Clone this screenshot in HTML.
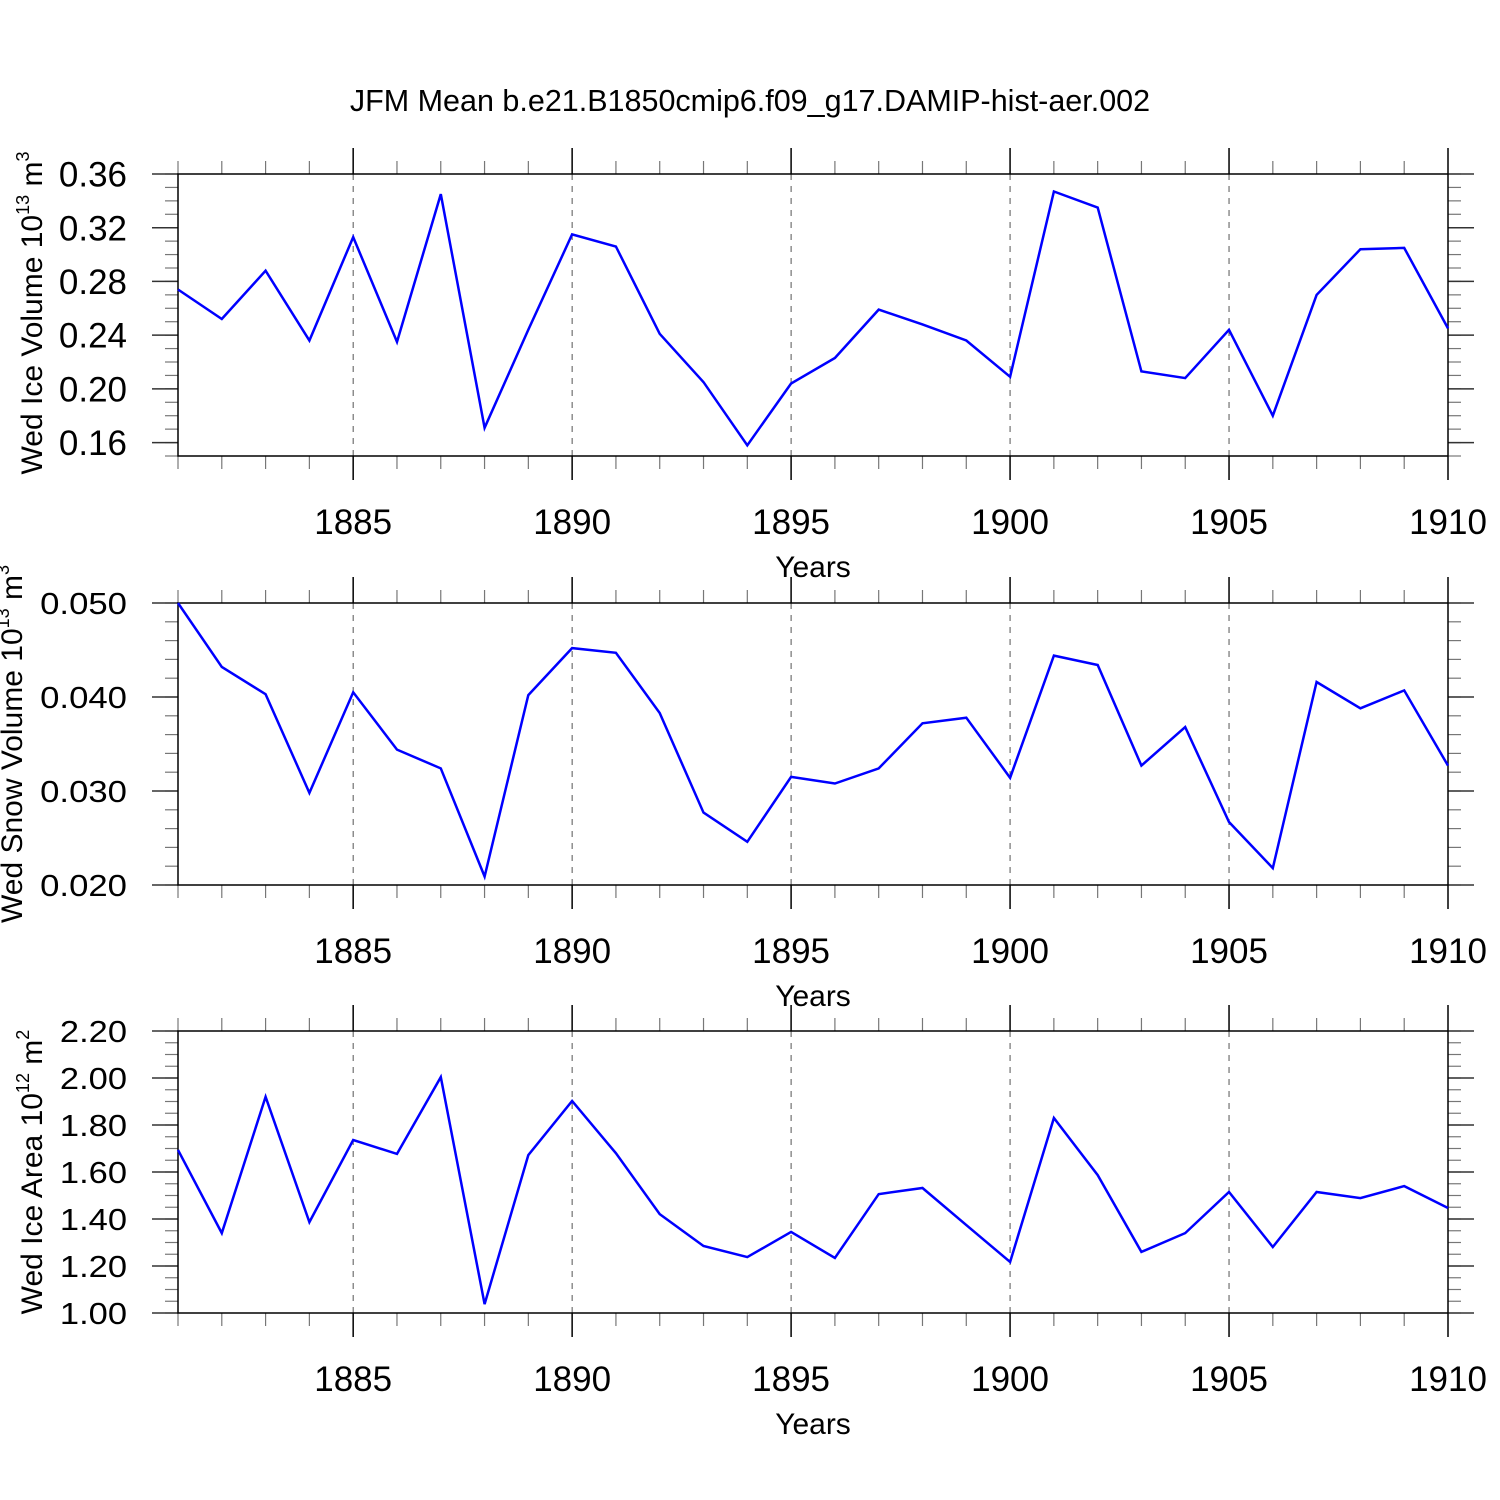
<!DOCTYPE html>
<html><head><meta charset="utf-8"><style>
html,body{margin:0;padding:0;background:#fff;}
svg{display:block;font-family:"Liberation Sans",Arial,sans-serif;}
</style></head><body>
<svg id="chart" width="1500" height="1500" viewBox="0 0 1500 1500" xmlns="http://www.w3.org/2000/svg">
<rect width="1500" height="1500" fill="#fff"/>
<text x="750" y="111" font-size="30.5" text-anchor="middle">JFM Mean b.e21.B1850cmip6.f09_g17.DAMIP-hist-aer.002</text>
</svg>
<script>
const years = [1881,1882,1883,1884,1885,1886,1887,1888,1889,1890,1891,1892,1893,1894,1895,1896,1897,1898,1899,1900,1901,1902,1903,1904,1905,1906,1907,1908,1909,1910];
const iceVolume = [0.274,0.252,0.288,0.236,0.313,0.235,0.345,0.171,0.244,0.315,0.306,0.241,0.205,0.158,0.204,0.223,0.259,0.248,0.236,0.209,0.347,0.335,0.213,0.208,0.244,0.180,0.270,0.304,0.305,0.245];
const snowVolume = [0.0500,0.0432,0.0403,0.0298,0.0405,0.0344,0.0324,0.0209,0.0402,0.0452,0.0447,0.0383,0.0277,0.0246,0.0315,0.0308,0.0324,0.0372,0.0378,0.0314,0.0444,0.0434,0.0327,0.0368,0.0267,0.0218,0.0416,0.0388,0.0407,0.0327];
const iceArea = [1.694,1.340,1.920,1.387,1.736,1.677,2.004,1.038,1.672,1.902,1.680,1.421,1.285,1.238,1.345,1.234,1.506,1.532,1.374,1.217,1.830,1.587,1.260,1.340,1.515,1.281,1.515,1.489,1.540,1.447];
const xTickLabels = ["1885","1890","1895","1900","1905","1910"];
const iceVolTicks = ["0.16","0.20","0.24","0.28","0.32","0.36"];
const snowTicks = ["0.020","0.030","0.040","0.050"];
const areaTicks = ["1.00","1.20","1.40","1.60","1.80","2.00","2.20"];

const NS = "http://www.w3.org/2000/svg";
const svg = document.getElementById('chart');
function mk(tag, attrs, parent){const e=document.createElementNS(NS,tag);for(const k in attrs)e.setAttribute(k,attrs[k]);(parent||svg).appendChild(e);return e;}

const X0=178, X1=1448, xMin=1881, xMax=1910;
function xs(v){return X0+(v-xMin)/(xMax-xMin)*(X1-X0);}

const panels = [
 {name:'ice-volume', top:174, bot:456, ymin:0.15, ymax:0.36, major:iceVolTicks, minor:0.01, data:iceVolume, fs:35, stretch:1,
  title:['Wed Ice Volume 10','13',' m','3'], titleX:42, titleY:313},
 {name:'snow-volume', top:603, bot:885, ymin:0.020, ymax:0.050, major:snowTicks, minor:0.002, data:snowVolume, fs:31, stretch:1.12,
  title:['Wed Snow Volume 10','13',' m','3'], titleX:22, titleY:744},
 {name:'ice-area', top:1031, bot:1313, ymin:1.0, ymax:2.2, major:areaTicks, minor:0.05, data:iceArea, fs:30.5, stretch:1.13,
  title:['Wed Ice Area 10','12',' m','2'], titleX:42, titleY:1172}
];

panels.forEach(p=>{
  const g=mk('g',{});
  
  
  const ys=v=>p.bot-(v-p.ymin)/(p.ymax-p.ymin)*(p.bot-p.top);
  for(let yr=1885; yr<1910; yr+=5){
    const l=mk('line',{x1:xs(yr),x2:xs(yr),y1:p.top,y2:p.bot,stroke:'#555','stroke-width':1,'stroke-dasharray':'6,6'},g);
    
    
  }
  years.forEach(yr=>{
    const maj=(yr%5===0);
    const len=maj?26:13;
    mk('line',{x1:xs(yr),x2:xs(yr),y1:p.top-len,y2:p.top,stroke:maj?'#000':'#777','stroke-width':maj?1.5:1.2},g);
    mk('line',{x1:xs(yr),x2:xs(yr),y1:p.bot,y2:p.bot+(maj?24:13),stroke:maj?'#000':'#777','stroke-width':maj?1.5:1.2},g);
  });
  const n=Math.round((p.ymax-p.ymin)/p.minor);
  for(let i=0;i<=n;i++){
    const y=ys(p.ymin+i*p.minor);
    mk('line',{x1:X0-13,x2:X0,y1:y,y2:y,stroke:'#777','stroke-width':1.2},g);
    mk('line',{x1:X1,x2:X1+13,y1:y,y2:y,stroke:'#777','stroke-width':1.2},g);
  }
  p.major.forEach(lbl=>{
    const y=ys(parseFloat(lbl));
    mk('line',{x1:X0-26,x2:X0,y1:y,y2:y,stroke:'#333','stroke-width':1.5},g);
    mk('line',{x1:X1,x2:X1+26,y1:y,y2:y,stroke:'#333','stroke-width':1.5},g);
    const t=mk('text',{x:0,y:0,'font-size':p.fs,'text-anchor':'end',transform:`translate(127,${y+p.fs*0.36}) scale(${p.stretch},1)`},g);
    t.textContent=lbl;
    
    
  });
  const fr=mk('rect',{x:X0,y:p.top,width:X1-X0,height:p.bot-p.top,fill:'none',stroke:'#000','stroke-width':1.5},g);
  
  
  xTickLabels.forEach(lbl=>{
    const t=mk('text',{x:xs(+lbl),y:p.bot+78,'font-size':35,'text-anchor':'middle'},g);
    t.textContent=lbl;
    
    
  });
  const xt=mk('text',{x:813,y:p.bot+121,'font-size':30,'text-anchor':'middle'},g);
  xt.textContent='Years';
  
  
  const yt=mk('text',{x:0,y:0,'font-size':30,'text-anchor':'middle',transform:`translate(${p.titleX},${p.titleY}) rotate(-90)`},g);
  
  
  const s1=mk('tspan',{},yt); s1.textContent=p.title[0];
  const s2=mk('tspan',{dy:-13,'font-size':18},yt); s2.textContent=p.title[1];
  const s3=mk('tspan',{dy:13},yt); s3.textContent=p.title[2];
  const s4=mk('tspan',{dy:-13,'font-size':18},yt); s4.textContent=p.title[3];
  const pts=p.data.map((v,i)=>xs(years[i]).toFixed(1)+','+ys(v).toFixed(1)).join(' ');
  const pl=mk('polyline',{points:pts,fill:'none',stroke:'#0000ff','stroke-width':2.5,'stroke-linejoin':'miter'},g);
  
  
});
</script>
</body></html>
